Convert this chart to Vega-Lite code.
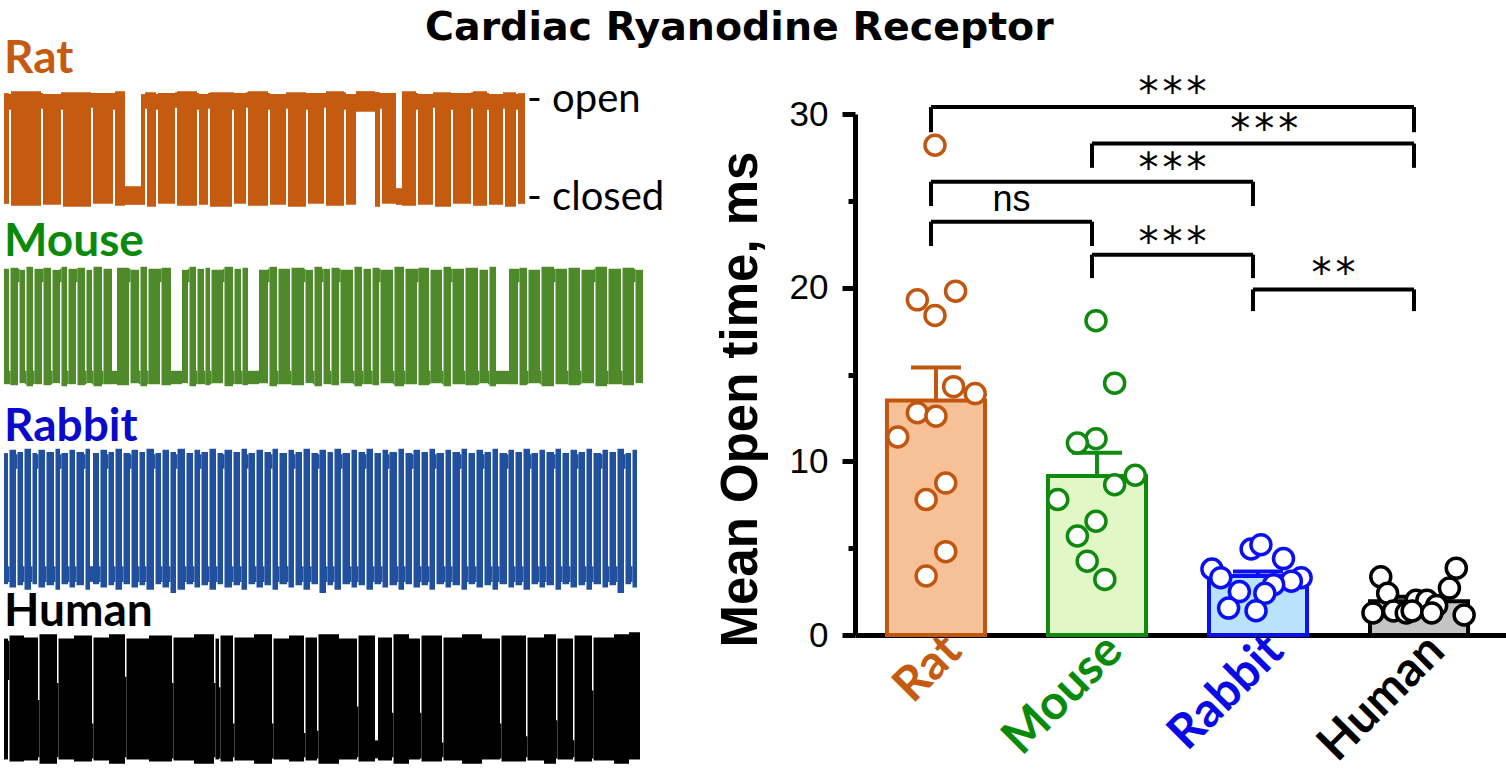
{
  "$schema": "https://vega.github.io/schema/vega-lite/v6.json",
  "background": "white",
  "padding": {"left": 4, "top": 8, "right": 0, "bottom": 6},
  "autosize": {"type": "pad"},
  "title": {"text": "Cardiac Ryanodine Receptor", "anchor": "start", "frame": "group", "dx": 421, "offset": -13, "font": "DejaVu Sans", "fontSize": 39.5, "fontWeight": "bold", "color": "#000000"},
  "config": {"view": {"stroke": null}, "axis": {"grid": false}},
  "bounds": "flush",
  "spacing": 211,
  "hconcat": [
    {
      "width": 640,
      "height": 521,
      "resolve": {"scale": {"y": "independent"}},
      "layer": [
        {
          "layer": [
            {
              "data": {"values": [
                {"t0":0,"t1":5,"lo":-6,"hi":107},{"t0":5,"t1":7,"lo":90,"hi":106},{"t0":7,"t1":37,"lo":-8,"hi":109},{"t0":37,"t1":39,"lo":91,"hi":107},
                {"t0":39,"t1":57,"lo":-7,"hi":106},{"t0":57,"t1":59,"lo":90,"hi":108},{"t0":59,"t1":87,"lo":-9,"hi":108},{"t0":87,"t1":89,"lo":92,"hi":107},
                {"t0":89,"t1":109,"lo":-6,"hi":107},{"t0":109,"t1":111,"lo":90,"hi":107},{"t0":111,"t1":121,"lo":-8,"hi":109},{"t0":121,"t1":137,"lo":-7,"hi":12},
                {"t0":137,"t1":141,"lo":-7,"hi":106},{"t0":141,"t1":143,"lo":91,"hi":108},{"t0":143,"t1":152,"lo":-9,"hi":108},{"t0":152,"t1":154,"lo":90,"hi":106},
                {"t0":154,"t1":171,"lo":-6,"hi":107},{"t0":171,"t1":173,"lo":92,"hi":108},{"t0":173,"t1":193,"lo":-8,"hi":109},{"t0":193,"t1":195,"lo":90,"hi":107},
                {"t0":195,"t1":204,"lo":-7,"hi":106},{"t0":204,"t1":206,"lo":91,"hi":107},{"t0":206,"t1":228,"lo":-9,"hi":108},{"t0":228,"t1":230,"lo":90,"hi":108},
                {"t0":230,"t1":242,"lo":-6,"hi":107},{"t0":242,"t1":244,"lo":92,"hi":108},{"t0":244,"t1":264,"lo":-8,"hi":109},{"t0":264,"t1":266,"lo":90,"hi":107},
                {"t0":266,"t1":282,"lo":-7,"hi":106},{"t0":282,"t1":284,"lo":91,"hi":108},{"t0":284,"t1":302,"lo":-9,"hi":108},{"t0":302,"t1":304,"lo":90,"hi":107},
                {"t0":304,"t1":320,"lo":-6,"hi":107},{"t0":320,"t1":322,"lo":92,"hi":107},{"t0":322,"t1":340,"lo":-8,"hi":109},{"t0":340,"t1":342,"lo":90,"hi":108},
                {"t0":342,"t1":352,"lo":-7,"hi":106},{"t0":352,"t1":371,"lo":88,"hi":109},{"t0":371,"t1":376,"lo":-9,"hi":108},{"t0":376,"t1":378,"lo":91,"hi":107},
                {"t0":378,"t1":392,"lo":-6,"hi":107},{"t0":392,"t1":398,"lo":-7,"hi":10},{"t0":398,"t1":412,"lo":-8,"hi":109},{"t0":412,"t1":414,"lo":90,"hi":107},
                {"t0":414,"t1":429,"lo":-7,"hi":106},{"t0":429,"t1":431,"lo":92,"hi":108},{"t0":431,"t1":447,"lo":-9,"hi":108},{"t0":447,"t1":449,"lo":90,"hi":107},
                {"t0":449,"t1":467,"lo":-6,"hi":107},{"t0":467,"t1":469,"lo":91,"hi":108},{"t0":469,"t1":483,"lo":-8,"hi":109},{"t0":483,"t1":485,"lo":90,"hi":107},
                {"t0":485,"t1":499,"lo":-7,"hi":106},{"t0":499,"t1":501,"lo":91,"hi":108},{"t0":501,"t1":512,"lo":-9,"hi":108},{"t0":512,"t1":514,"lo":90,"hi":106},
                {"t0":514,"t1":521,"lo":-6,"hi":107}
              ]},
              "mark": {"type": "rect", "color": "#C55A11"},
              "encoding": {
                "x": {"field": "t0", "type": "quantitative", "scale": {"domain": [0, 640], "nice": false, "zero": false}, "axis": null},
                "x2": {"field": "t1"},
                "y": {"field": "lo", "type": "quantitative", "scale": {"domain": [-445.9, 85.7], "nice": false, "zero": false}, "axis": null},
                "y2": {"field": "hi"}
              }
            },
            {
              "data": {"values": [{"species": "Rat"}]},
              "mark": {"type": "text", "align": "left", "baseline": "alphabetic", "font": "Lato", "fontWeight": "bold", "fontSize": 46, "color": "#C55A11"},
              "encoding": {"x": {"datum": 0, "axis": null}, "y": {"datum": 127.6, "axis": null}, "text": {"field": "species"}}
            },
            {
              "data": {"values": [{"lab": "- open", "level": 100}, {"lab": "- closed", "level": 0}]},
              "mark": {"type": "text", "align": "left", "baseline": "middle", "font": "Lato", "fontSize": 40, "color": "#000000"},
              "encoding": {"x": {"datum": 523, "axis": null}, "y": {"field": "level", "type": "quantitative", "axis": null}, "text": {"field": "lab"}}
            }
          ]
        },
        {
          "layer": [
            {
              "data": {"values": [
                {"t0":0,"t1":5,"lo":-6,"hi":106},{"t0":5,"t1":6.5,"lo":-6,"hi":7},{"t0":6.5,"t1":14,"lo":-7,"hi":107},{"t0":14,"t1":15.5,"lo":93,"hi":106},
                {"t0":15.5,"t1":21,"lo":-5,"hi":105},{"t0":21,"t1":22.5,"lo":-6,"hi":7},{"t0":22.5,"t1":29,"lo":-8,"hi":108},{"t0":29,"t1":30.5,"lo":-6,"hi":7},
                {"t0":30.5,"t1":38,"lo":-6,"hi":106},{"t0":38,"t1":39.5,"lo":93,"hi":106},{"t0":39.5,"t1":47,"lo":-7,"hi":107},{"t0":47,"t1":48.5,"lo":-6,"hi":7},
                {"t0":48.5,"t1":56,"lo":-5,"hi":105},{"t0":56,"t1":57.5,"lo":93,"hi":106},{"t0":57.5,"t1":63,"lo":-8,"hi":108},{"t0":63,"t1":64.5,"lo":-6,"hi":7},
                {"t0":64.5,"t1":72,"lo":-6,"hi":106},{"t0":72,"t1":73.5,"lo":93,"hi":106},{"t0":73.5,"t1":81,"lo":-7,"hi":107},{"t0":81,"t1":82.5,"lo":-6,"hi":7},
                {"t0":82.5,"t1":88,"lo":-5,"hi":105},{"t0":88,"t1":89.5,"lo":-6,"hi":7},{"t0":89.5,"t1":98,"lo":-8,"hi":108},{"t0":98,"t1":99.5,"lo":-6,"hi":7},
                {"t0":99.5,"t1":108,"lo":-6,"hi":106},{"t0":108,"t1":113,"lo":-6,"hi":7},{"t0":113,"t1":125,"lo":-7,"hi":107},{"t0":125,"t1":126.5,"lo":93,"hi":106},
                {"t0":126.5,"t1":135,"lo":-5,"hi":105},{"t0":135,"t1":136.5,"lo":-6,"hi":7},{"t0":136.5,"t1":143,"lo":-8,"hi":108},{"t0":143,"t1":144.5,"lo":-6,"hi":7},
                {"t0":144.5,"t1":156,"lo":-6,"hi":106},{"t0":156,"t1":157.5,"lo":93,"hi":106},{"t0":157.5,"t1":167,"lo":-7,"hi":107},{"t0":167,"t1":178,"lo":-6,"hi":7},
                {"t0":178,"t1":184,"lo":-5,"hi":105},{"t0":184,"t1":185.5,"lo":93,"hi":106},{"t0":185.5,"t1":192,"lo":-8,"hi":108},{"t0":192,"t1":193.5,"lo":-6,"hi":7},
                {"t0":193.5,"t1":200,"lo":-6,"hi":106},{"t0":200,"t1":201.5,"lo":-6,"hi":7},{"t0":201.5,"t1":206,"lo":-7,"hi":107},{"t0":206,"t1":207.5,"lo":-6,"hi":7},
                {"t0":207.5,"t1":219,"lo":-5,"hi":105},{"t0":219,"t1":220.5,"lo":93,"hi":106},{"t0":220.5,"t1":229,"lo":-8,"hi":108},{"t0":229,"t1":230.5,"lo":-6,"hi":7},
                {"t0":230.5,"t1":237,"lo":-6,"hi":106},{"t0":237,"t1":238.5,"lo":-6,"hi":7},{"t0":238.5,"t1":244,"lo":-7,"hi":107},{"t0":244,"t1":255,"lo":-6,"hi":7},
                {"t0":255,"t1":264,"lo":-5,"hi":105},{"t0":264,"t1":265.5,"lo":93,"hi":106},{"t0":265.5,"t1":273,"lo":-8,"hi":108},{"t0":273,"t1":274.5,"lo":-6,"hi":7},
                {"t0":274.5,"t1":286,"lo":-6,"hi":106},{"t0":286,"t1":287.5,"lo":-6,"hi":7},{"t0":287.5,"t1":300,"lo":-7,"hi":107},{"t0":300,"t1":301.5,"lo":93,"hi":106},
                {"t0":301.5,"t1":309,"lo":-5,"hi":105},{"t0":309,"t1":310.5,"lo":-6,"hi":7},{"t0":310.5,"t1":318,"lo":-8,"hi":108},{"t0":318,"t1":319.5,"lo":93,"hi":106},
                {"t0":319.5,"t1":326,"lo":-6,"hi":106},{"t0":326,"t1":327.5,"lo":-6,"hi":7},{"t0":327.5,"t1":335,"lo":-7,"hi":107},{"t0":335,"t1":336.5,"lo":93,"hi":106},
                {"t0":336.5,"t1":349,"lo":-5,"hi":105},{"t0":349,"t1":350.5,"lo":-6,"hi":7},{"t0":350.5,"t1":358,"lo":-8,"hi":108},{"t0":358,"t1":359.5,"lo":-6,"hi":7},
                {"t0":359.5,"t1":367,"lo":-6,"hi":106},{"t0":367,"t1":368.5,"lo":-6,"hi":7},{"t0":368.5,"t1":375,"lo":-7,"hi":107},{"t0":375,"t1":376.5,"lo":93,"hi":106},
                {"t0":376.5,"t1":389,"lo":-5,"hi":105},{"t0":389,"t1":390.5,"lo":-6,"hi":7},{"t0":390.5,"t1":400,"lo":-8,"hi":108},{"t0":400,"t1":401.5,"lo":-6,"hi":7},
                {"t0":401.5,"t1":413,"lo":-6,"hi":106},{"t0":413,"t1":414.5,"lo":93,"hi":106},{"t0":414.5,"t1":425,"lo":-7,"hi":107},{"t0":425,"t1":426.5,"lo":-6,"hi":7},
                {"t0":426.5,"t1":438,"lo":-5,"hi":105},{"t0":438,"t1":439.5,"lo":-6,"hi":7},{"t0":439.5,"t1":447,"lo":-8,"hi":108},{"t0":447,"t1":448.5,"lo":93,"hi":106},
                {"t0":448.5,"t1":460,"lo":-6,"hi":106},{"t0":460,"t1":461.5,"lo":-6,"hi":7},{"t0":461.5,"t1":474,"lo":-7,"hi":107},{"t0":474,"t1":475.5,"lo":-6,"hi":7},
                {"t0":475.5,"t1":484,"lo":-5,"hi":105},{"t0":484,"t1":485.5,"lo":-6,"hi":7},{"t0":485.5,"t1":492,"lo":-8,"hi":108},{"t0":492,"t1":505,"lo":-6,"hi":7},
                {"t0":505,"t1":514,"lo":-6,"hi":106},{"t0":514,"t1":515.5,"lo":93,"hi":106},{"t0":515.5,"t1":523,"lo":-7,"hi":107},{"t0":523,"t1":524.5,"lo":-6,"hi":7},
                {"t0":524.5,"t1":536,"lo":-5,"hi":105},{"t0":536,"t1":537.5,"lo":-6,"hi":7},{"t0":537.5,"t1":550,"lo":-8,"hi":108},{"t0":550,"t1":551.5,"lo":93,"hi":106},
                {"t0":551.5,"t1":563,"lo":-6,"hi":106},{"t0":563,"t1":564.5,"lo":-6,"hi":7},{"t0":564.5,"t1":576,"lo":-7,"hi":107},{"t0":576,"t1":577.5,"lo":-6,"hi":7},
                {"t0":577.5,"t1":590,"lo":-5,"hi":105},{"t0":590,"t1":591.5,"lo":93,"hi":106},{"t0":591.5,"t1":603,"lo":-8,"hi":108},{"t0":603,"t1":604.5,"lo":-6,"hi":7},
                {"t0":604.5,"t1":617,"lo":-6,"hi":106},{"t0":617,"t1":618.5,"lo":-6,"hi":7},{"t0":618.5,"t1":630,"lo":-7,"hi":107},{"t0":630,"t1":631.5,"lo":93,"hi":106},
                {"t0":631.5,"t1":639,"lo":-5,"hi":105}
              ]},
              "mark": {"type": "rect", "color": "#4F8A2A"},
              "encoding": {
                "x": {"field": "t0", "type": "quantitative", "scale": {"domain": [0, 640], "nice": false, "zero": false}, "axis": null},
                "x2": {"field": "t1"},
                "y": {"field": "lo", "type": "quantitative", "scale": {"domain": [-249.5, 256.3], "nice": false, "zero": false}, "axis": null},
                "y2": {"field": "hi"}
              }
            },
            {
              "data": {"values": [{"species": "Mouse"}]},
              "mark": {"type": "text", "align": "left", "baseline": "alphabetic", "font": "Lato", "fontWeight": "bold", "fontSize": 46, "color": "#0A8A0A"},
              "encoding": {"x": {"datum": 0, "axis": null}, "y": {"datum": 118.4, "axis": null}, "text": {"field": "species"}}
            }
          ]
        },
        {
          "layer": [
            {
              "data": {"values": [
                {"t0":0,"t1":4,"lo":-10,"hi":107},{"t0":4,"t1":5.5,"lo":-8,"hi":6},{"t0":5.5,"t1":12,"lo":-13,"hi":110},{"t0":12,"t1":13.5,"lo":93,"hi":106},
                {"t0":13.5,"t1":19,"lo":-11,"hi":108},{"t0":19,"t1":20.5,"lo":-8,"hi":6},{"t0":20.5,"t1":27,"lo":-15,"hi":111},{"t0":27,"t1":28.5,"lo":-8,"hi":6},
                {"t0":28.5,"t1":33,"lo":-10,"hi":107},{"t0":33,"t1":34.5,"lo":93,"hi":106},{"t0":34.5,"t1":41,"lo":-13,"hi":110},{"t0":41,"t1":42.5,"lo":-8,"hi":6},
                {"t0":42.5,"t1":50,"lo":-11,"hi":108},{"t0":50,"t1":51.5,"lo":-8,"hi":6},{"t0":51.5,"t1":56,"lo":-15,"hi":111},{"t0":56,"t1":57.5,"lo":93,"hi":106},
                {"t0":57.5,"t1":64,"lo":-10,"hi":107},{"t0":64,"t1":65.5,"lo":-8,"hi":6},{"t0":65.5,"t1":71,"lo":-13,"hi":110},{"t0":71,"t1":72.5,"lo":-8,"hi":6},
                {"t0":72.5,"t1":80,"lo":-11,"hi":108},{"t0":80,"t1":81.5,"lo":93,"hi":106},{"t0":81.5,"t1":86,"lo":-15,"hi":111},{"t0":86,"t1":89,"lo":-8,"hi":6},
                {"t0":89,"t1":95,"lo":-10,"hi":107},{"t0":95,"t1":96.5,"lo":-8,"hi":6},{"t0":96.5,"t1":103,"lo":-13,"hi":110},{"t0":103,"t1":104.5,"lo":93,"hi":106},
                {"t0":104.5,"t1":110,"lo":-11,"hi":108},{"t0":110,"t1":111.5,"lo":-8,"hi":6},{"t0":111.5,"t1":118,"lo":-15,"hi":111},{"t0":118,"t1":119.5,"lo":-8,"hi":6},
                {"t0":119.5,"t1":126,"lo":-10,"hi":107},{"t0":126,"t1":127.5,"lo":93,"hi":106},{"t0":127.5,"t1":134,"lo":-13,"hi":110},{"t0":134,"t1":135.5,"lo":-8,"hi":6},
                {"t0":135.5,"t1":141,"lo":-11,"hi":108},{"t0":141,"t1":142.5,"lo":-8,"hi":6},{"t0":142.5,"t1":150,"lo":-15,"hi":111},{"t0":150,"t1":151.5,"lo":93,"hi":106},
                {"t0":151.5,"t1":157,"lo":-10,"hi":107},{"t0":157,"t1":158.5,"lo":-8,"hi":6},{"t0":158.5,"t1":165,"lo":-13,"hi":110},{"t0":165,"t1":166.5,"lo":-8,"hi":6},
                {"t0":166.5,"t1":172,"lo":-18,"hi":108},{"t0":172,"t1":173.5,"lo":93,"hi":106},{"t0":173.5,"t1":181,"lo":-15,"hi":111},{"t0":181,"t1":182.5,"lo":-8,"hi":6},
                {"t0":182.5,"t1":189,"lo":-10,"hi":107},{"t0":189,"t1":190.5,"lo":-8,"hi":6},{"t0":190.5,"t1":196,"lo":-13,"hi":110},{"t0":196,"t1":197.5,"lo":93,"hi":106},
                {"t0":197.5,"t1":204,"lo":-11,"hi":108},{"t0":204,"t1":205.5,"lo":-8,"hi":6},{"t0":205.5,"t1":212,"lo":-15,"hi":111},{"t0":212,"t1":213.5,"lo":-8,"hi":6},
                {"t0":213.5,"t1":219,"lo":-10,"hi":107},{"t0":219,"t1":220.5,"lo":93,"hi":106},{"t0":220.5,"t1":228,"lo":-13,"hi":110},{"t0":228,"t1":229.5,"lo":-8,"hi":6},
                {"t0":229.5,"t1":236,"lo":-11,"hi":108},{"t0":236,"t1":237.5,"lo":-8,"hi":6},{"t0":237.5,"t1":243,"lo":-15,"hi":111},{"t0":243,"t1":244.5,"lo":93,"hi":106},
                {"t0":244.5,"t1":251,"lo":-10,"hi":107},{"t0":251,"t1":252.5,"lo":-8,"hi":6},{"t0":252.5,"t1":259,"lo":-13,"hi":110},{"t0":259,"t1":260.5,"lo":-8,"hi":6},
                {"t0":260.5,"t1":267,"lo":-11,"hi":108},{"t0":267,"t1":268.5,"lo":93,"hi":106},{"t0":268.5,"t1":274,"lo":-15,"hi":111},{"t0":274,"t1":275.5,"lo":-8,"hi":6},
                {"t0":275.5,"t1":283,"lo":-10,"hi":107},{"t0":283,"t1":284.5,"lo":-8,"hi":6},{"t0":284.5,"t1":290,"lo":-13,"hi":110},{"t0":290,"t1":291.5,"lo":93,"hi":106},
                {"t0":291.5,"t1":298,"lo":-11,"hi":108},{"t0":298,"t1":299.5,"lo":-8,"hi":6},{"t0":299.5,"t1":306,"lo":-15,"hi":111},{"t0":306,"t1":307.5,"lo":-8,"hi":6},
                {"t0":307.5,"t1":314,"lo":-10,"hi":107},{"t0":314,"t1":315.5,"lo":93,"hi":106},{"t0":315.5,"t1":322,"lo":-18,"hi":110},{"t0":322,"t1":323.5,"lo":-8,"hi":6},
                {"t0":323.5,"t1":329,"lo":-11,"hi":108},{"t0":329,"t1":330.5,"lo":-8,"hi":6},{"t0":330.5,"t1":337,"lo":-15,"hi":111},{"t0":337,"t1":338.5,"lo":93,"hi":106},
                {"t0":338.5,"t1":346,"lo":-10,"hi":107},{"t0":346,"t1":347.5,"lo":-8,"hi":6},{"t0":347.5,"t1":353,"lo":-13,"hi":110},{"t0":353,"t1":354.5,"lo":-8,"hi":6},
                {"t0":354.5,"t1":361,"lo":-11,"hi":108},{"t0":361,"t1":362.5,"lo":93,"hi":106},{"t0":362.5,"t1":369,"lo":-15,"hi":111},{"t0":369,"t1":370.5,"lo":-8,"hi":6},
                {"t0":370.5,"t1":377,"lo":-10,"hi":107},{"t0":377,"t1":378.5,"lo":-8,"hi":6},{"t0":378.5,"t1":384,"lo":-13,"hi":110},{"t0":384,"t1":385.5,"lo":93,"hi":106},
                {"t0":385.5,"t1":393,"lo":-11,"hi":108},{"t0":393,"t1":394.5,"lo":-8,"hi":6},{"t0":394.5,"t1":400,"lo":-15,"hi":111},{"t0":400,"t1":401.5,"lo":-8,"hi":6},
                {"t0":401.5,"t1":408,"lo":-10,"hi":107},{"t0":408,"t1":409.5,"lo":93,"hi":106},{"t0":409.5,"t1":416,"lo":-13,"hi":110},{"t0":416,"t1":417.5,"lo":-8,"hi":6},
                {"t0":417.5,"t1":424,"lo":-11,"hi":108},{"t0":424,"t1":425.5,"lo":-8,"hi":6},{"t0":425.5,"t1":431,"lo":-15,"hi":111},{"t0":431,"t1":432.5,"lo":93,"hi":106},
                {"t0":432.5,"t1":440,"lo":-10,"hi":107},{"t0":440,"t1":441.5,"lo":-8,"hi":6},{"t0":441.5,"t1":447,"lo":-13,"hi":110},{"t0":447,"t1":448.5,"lo":-8,"hi":6},
                {"t0":448.5,"t1":456,"lo":-11,"hi":108},{"t0":456,"t1":457.5,"lo":93,"hi":106},{"t0":457.5,"t1":463,"lo":-15,"hi":111},{"t0":463,"t1":464.5,"lo":-8,"hi":6},
                {"t0":464.5,"t1":471,"lo":-10,"hi":107},{"t0":471,"t1":472.5,"lo":-8,"hi":6},{"t0":472.5,"t1":479,"lo":-13,"hi":110},{"t0":479,"t1":480.5,"lo":93,"hi":106},
                {"t0":480.5,"t1":487,"lo":-11,"hi":108},{"t0":487,"t1":488.5,"lo":-8,"hi":6},{"t0":488.5,"t1":494,"lo":-15,"hi":111},{"t0":494,"t1":495.5,"lo":-8,"hi":6},
                {"t0":495.5,"t1":503,"lo":-10,"hi":107},{"t0":503,"t1":504.5,"lo":93,"hi":106},{"t0":504.5,"t1":510,"lo":-13,"hi":110},{"t0":510,"t1":511.5,"lo":-8,"hi":6},
                {"t0":511.5,"t1":518,"lo":-11,"hi":108},{"t0":518,"t1":519.5,"lo":-8,"hi":6},{"t0":519.5,"t1":526,"lo":-15,"hi":111},{"t0":526,"t1":527.5,"lo":93,"hi":106},
                {"t0":527.5,"t1":534,"lo":-10,"hi":107},{"t0":534,"t1":535.5,"lo":-8,"hi":6},{"t0":535.5,"t1":541,"lo":-13,"hi":110},{"t0":541,"t1":542.5,"lo":-8,"hi":6},
                {"t0":542.5,"t1":550,"lo":-11,"hi":108},{"t0":550,"t1":551.5,"lo":93,"hi":106},{"t0":551.5,"t1":557,"lo":-15,"hi":111},{"t0":557,"t1":558.5,"lo":-8,"hi":6},
                {"t0":558.5,"t1":565,"lo":-10,"hi":107},{"t0":565,"t1":566.5,"lo":-8,"hi":6},{"t0":566.5,"t1":573,"lo":-13,"hi":110},{"t0":573,"t1":574.5,"lo":93,"hi":106},
                {"t0":574.5,"t1":581,"lo":-11,"hi":108},{"t0":581,"t1":582.5,"lo":-8,"hi":6},{"t0":582.5,"t1":588,"lo":-15,"hi":111},{"t0":588,"t1":589.5,"lo":-8,"hi":6},
                {"t0":589.5,"t1":597,"lo":-10,"hi":107},{"t0":597,"t1":598.5,"lo":93,"hi":106},{"t0":598.5,"t1":604,"lo":-13,"hi":110},{"t0":604,"t1":605.5,"lo":-8,"hi":6},
                {"t0":605.5,"t1":612,"lo":-11,"hi":108},{"t0":612,"t1":613.5,"lo":-8,"hi":6},{"t0":613.5,"t1":620,"lo":-18,"hi":111},{"t0":620,"t1":621.5,"lo":93,"hi":106},
                {"t0":621.5,"t1":627,"lo":-10,"hi":107},{"t0":627,"t1":628.5,"lo":-8,"hi":6},{"t0":628.5,"t1":633,"lo":-13,"hi":110}
              ]},
              "mark": {"type": "rect", "color": "#21509E"},
              "encoding": {
                "x": {"field": "t0", "type": "quantitative", "scale": {"domain": [0, 640], "nice": false, "zero": false}, "axis": null},
                "x2": {"field": "t1"},
                "y": {"field": "lo", "type": "quantitative", "scale": {"domain": [-55.4, 409.8], "nice": false, "zero": false}, "axis": null},
                "y2": {"field": "hi"}
              }
            },
            {
              "data": {"values": [{"species": "Rabbit"}]},
              "mark": {"type": "text", "align": "left", "baseline": "alphabetic", "font": "Lato", "fontWeight": "bold", "fontSize": 46, "color": "#0A0ACC"},
              "encoding": {"x": {"datum": 0, "axis": null}, "y": {"datum": 117.9, "axis": null}, "text": {"field": "species"}}
            }
          ]
        },
        {
          "layer": [
            {
              "data": {"values": [
                {"t0":0,"t1":4,"lo":-8,"hi":106},{"t0":4,"t1":5.5,"lo":67,"hi":104},{"t0":5.5,"t1":20,"lo":-10,"hi":109},{"t0":20,"t1":34,"lo":-9,"hi":107},
                {"t0":34,"t1":35.5,"lo":-6,"hi":48},{"t0":35.5,"t1":53,"lo":-12,"hi":110},{"t0":53,"t1":54.5,"lo":-6,"hi":64},{"t0":54.5,"t1":70,"lo":-8,"hi":106},
                {"t0":70,"t1":88,"lo":-10,"hi":109},{"t0":88,"t1":89.5,"lo":-7,"hi":26},{"t0":89.5,"t1":105,"lo":-9,"hi":107},{"t0":105,"t1":121,"lo":-12,"hi":110},
                {"t0":121,"t1":122.5,"lo":-6,"hi":70},{"t0":122.5,"t1":145,"lo":-8,"hi":106},{"t0":145,"t1":168,"lo":-10,"hi":109},{"t0":168,"t1":169.5,"lo":-7,"hi":64},
                {"t0":169.5,"t1":190,"lo":-9,"hi":107},{"t0":190,"t1":210,"lo":-12,"hi":110},{"t0":210,"t1":211.5,"lo":-6,"hi":64},{"t0":211.5,"t1":215,"lo":-8,"hi":106},
                {"t0":215,"t1":216.5,"lo":-7,"hi":60},{"t0":216.5,"t1":229,"lo":-10,"hi":109},{"t0":229,"t1":230.5,"lo":-6,"hi":26},{"t0":230.5,"t1":250,"lo":-9,"hi":107},
                {"t0":250,"t1":268,"lo":-12,"hi":110},{"t0":268,"t1":269.5,"lo":-7,"hi":26},{"t0":269.5,"t1":285,"lo":-8,"hi":106},{"t0":285,"t1":300,"lo":-10,"hi":109},
                {"t0":300,"t1":301.5,"lo":-6,"hi":17},{"t0":301.5,"t1":313,"lo":-9,"hi":107},{"t0":313,"t1":314.5,"lo":-7,"hi":19},{"t0":314.5,"t1":335,"lo":-12,"hi":110},
                {"t0":335,"t1":353,"lo":-8,"hi":106},{"t0":353,"t1":354.5,"lo":-6,"hi":42},{"t0":354.5,"t1":371,"lo":-10,"hi":109},{"t0":371,"t1":374,"lo":-7,"hi":10},
                {"t0":374,"t1":388,"lo":-9,"hi":107},{"t0":388,"t1":389.5,"lo":-6,"hi":36},{"t0":389.5,"t1":405,"lo":-12,"hi":110},{"t0":405,"t1":416,"lo":-8,"hi":106},
                {"t0":416,"t1":417.5,"lo":-7,"hi":36},{"t0":417.5,"t1":438,"lo":-10,"hi":109},{"t0":438,"t1":439.5,"lo":-6,"hi":8},{"t0":439.5,"t1":458,"lo":-9,"hi":107},
                {"t0":458,"t1":478,"lo":-12,"hi":110},{"t0":478,"t1":496,"lo":-8,"hi":106},{"t0":496,"t1":497.5,"lo":-7,"hi":26},{"t0":497.5,"t1":522,"lo":-10,"hi":109},
                {"t0":522,"t1":523.5,"lo":-6,"hi":14},{"t0":523.5,"t1":540,"lo":-9,"hi":107},{"t0":540,"t1":552,"lo":-12,"hi":110},{"t0":552,"t1":553.5,"lo":-7,"hi":29},
                {"t0":553.5,"t1":569,"lo":-8,"hi":106},{"t0":569,"t1":570.5,"lo":-6,"hi":10},{"t0":570.5,"t1":588,"lo":-10,"hi":109},{"t0":588,"t1":589.5,"lo":-7,"hi":57},
                {"t0":589.5,"t1":610,"lo":-9,"hi":107},{"t0":610,"t1":625,"lo":-12,"hi":110},{"t0":625,"t1":636,"lo":-8,"hi":112}
              ]},
              "mark": {"type": "rect", "color": "#000000"},
              "encoding": {
                "x": {"field": "t0", "type": "quantitative", "scale": {"domain": [0, 640], "nice": false, "zero": false}, "axis": null},
                "x2": {"field": "t1"},
                "y": {"field": "lo", "type": "quantitative", "scale": {"domain": [109.4, 600.9], "nice": false, "zero": false}, "axis": null},
                "y2": {"field": "hi"}
              }
            },
            {
              "data": {"values": [{"species": "Human"}]},
              "mark": {"type": "text", "align": "left", "baseline": "alphabetic", "font": "Lato", "fontWeight": "bold", "fontSize": 46, "color": "#000000"},
              "encoding": {"x": {"datum": 0, "axis": null}, "y": {"datum": 117.9, "axis": null}, "text": {"field": "species"}}
            }
          ]
        }
      ]
    },
    {
      "width": 651,
      "height": 521,
      "resolve": {"scale": {"x": "independent", "xOffset": "independent"}, "axis": {"x": "independent", "y": "independent"}},
      "layer": [
        {
          "data": {"values": [
            {"species": "Rat", "mean": 13.5, "upper": 15.4},
            {"species": "Mouse", "mean": 9.15, "upper": 10.5},
            {"species": "Rabbit", "mean": 3.4, "upper": 3.65},
            {"species": "Human", "mean": 1.95, "upper": 2.2}
          ]},
          "layer": [
            {
              "mark": {"type": "bar", "strokeWidth": 4, "width": {"band": 1}},
              "encoding": {
                "x": {"field": "species", "type": "nominal", "sort": ["Rat", "Mouse", "Rabbit", "Human"],
                  "scale": {"paddingInner": 0.391, "paddingOuter": 0.217, "align": 0.457},
                  "axis": {"orient": "bottom", "title": null, "ticks": false, "domainWidth": 5, "domainColor": "#000000",
                    "labelAngle": -45, "labelAlign": "right", "labelBaseline": "middle", "labelFont": "Lato", "labelFontWeight": "bold",
                    "labelFontSize": 48, "labelPadding": 8, "labelOffset": 18,
                    "labelColor": {"expr": "datum.value === 'Rat' ? '#C55A11' : datum.value === 'Mouse' ? '#0A8A0A' : datum.value === 'Rabbit' ? '#0A0AE6' : '#000000'"}}},
                "y": {"field": "mean", "type": "quantitative", "scale": {"domain": [0, 30], "nice": false, "zero": true},
                  "axis": {"orient": "left", "values": [0, 10, 20, 30], "tickSize": 13, "tickWidth": 5, "tickColor": "#000000",
                    "domainWidth": 5, "domainColor": "#000000", "labelFont": "Liberation Sans", "labelFontSize": 35, "labelColor": "#000000",
                    "labelPadding": 14, "title": "Mean Open time, ms", "titleFont": "Liberation Sans", "titleFontSize": 51,
                    "titleFontWeight": "bold", "titleColor": "#000000", "titlePadding": 22, "titleY": 285}},
                "fill": {"field": "species", "type": "nominal", "scale": {"domain": ["Rat", "Mouse", "Rabbit", "Human"], "range": ["#F6C197", "#E2F7C6", "#B9E3FA", "#C4C4C4"]}, "legend": null},
                "stroke": {"field": "species", "type": "nominal", "scale": {"domain": ["Rat", "Mouse", "Rabbit", "Human"], "range": ["#C0560F", "#0F8A0F", "#0A10F0", "#000000"]}, "legend": null}
              }
            },
            {
              "mark": {"type": "rule", "strokeWidth": 4},
              "encoding": {
                "x": {"field": "species", "type": "nominal", "sort": ["Rat", "Mouse", "Rabbit", "Human"],
                  "axis": {"orient": "bottom", "title": null, "ticks": false, "domainWidth": 5, "domainColor": "#000000",
                    "labelAngle": -45, "labelAlign": "right", "labelBaseline": "middle", "labelFont": "Lato", "labelFontWeight": "bold",
                    "labelFontSize": 48, "labelPadding": 8, "labelOffset": 18,
                    "labelColor": {"expr": "datum.value === 'Rat' ? '#C55A11' : datum.value === 'Mouse' ? '#0A8A0A' : datum.value === 'Rabbit' ? '#0A0AE6' : '#000000'"}}},
                "y": {"field": "mean", "type": "quantitative",
                  "axis": {"orient": "left", "values": [0, 10, 20, 30], "tickSize": 13, "tickWidth": 5, "tickColor": "#000000",
                    "domainWidth": 5, "domainColor": "#000000", "labelFont": "Liberation Sans", "labelFontSize": 35, "labelColor": "#000000",
                    "labelPadding": 14, "title": "Mean Open time, ms", "titleFont": "Liberation Sans", "titleFontSize": 51,
                    "titleFontWeight": "bold", "titleColor": "#000000", "titlePadding": 22, "titleY": 285}},
                "y2": {"field": "upper"},
                "stroke": {"field": "species", "type": "nominal", "legend": null}
              }
            },
            {
              "mark": {"type": "tick", "orient": "horizontal", "size": 50, "thickness": 4, "opacity": 1},
              "encoding": {
                "x": {"field": "species", "type": "nominal", "sort": ["Rat", "Mouse", "Rabbit", "Human"],
                  "axis": {"orient": "bottom", "title": null, "ticks": false, "domainWidth": 5, "domainColor": "#000000",
                    "labelAngle": -45, "labelAlign": "right", "labelBaseline": "middle", "labelFont": "Lato", "labelFontWeight": "bold",
                    "labelFontSize": 48, "labelPadding": 8, "labelOffset": 18,
                    "labelColor": {"expr": "datum.value === 'Rat' ? '#C55A11' : datum.value === 'Mouse' ? '#0A8A0A' : datum.value === 'Rabbit' ? '#0A0AE6' : '#000000'"}}},
                "y": {"field": "upper", "type": "quantitative",
                  "axis": {"orient": "left", "values": [0, 10, 20, 30], "tickSize": 13, "tickWidth": 5, "tickColor": "#000000",
                    "domainWidth": 5, "domainColor": "#000000", "labelFont": "Liberation Sans", "labelFontSize": 35, "labelColor": "#000000",
                    "labelPadding": 14, "title": "Mean Open time, ms", "titleFont": "Liberation Sans", "titleFontSize": 51,
                    "titleFontWeight": "bold", "titleColor": "#000000", "titlePadding": 22, "titleY": 285}},
                "color": {"field": "species", "type": "nominal", "scale": {"domain": ["Rat", "Mouse", "Rabbit", "Human"], "range": ["#C0560F", "#0F8A0F", "#0A10F0", "#000000"]}, "legend": null}
              }
            }
          ]
        },
        {
          "data": {"values": [
            {"species": "Rat", "ms": 28.2, "j": 0.49}, {"species": "Rat", "ms": 19.3, "j": 0.31}, {"species": "Rat", "ms": 19.8, "j": 0.70},
            {"species": "Rat", "ms": 18.4, "j": 0.49}, {"species": "Rat", "ms": 14.3, "j": 0.68}, {"species": "Rat", "ms": 13.9, "j": 0.90},
            {"species": "Rat", "ms": 12.8, "j": 0.31}, {"species": "Rat", "ms": 12.6, "j": 0.50}, {"species": "Rat", "ms": 11.4, "j": 0.11},
            {"species": "Rat", "ms": 8.75, "j": 0.60}, {"species": "Rat", "ms": 7.8, "j": 0.40}, {"species": "Rat", "ms": 4.8, "j": 0.60},
            {"species": "Rat", "ms": 3.4, "j": 0.40},
            {"species": "Mouse", "ms": 18.1, "j": 0.49}, {"species": "Mouse", "ms": 14.5, "j": 0.68}, {"species": "Mouse", "ms": 11.3, "j": 0.49},
            {"species": "Mouse", "ms": 11.05, "j": 0.30}, {"species": "Mouse", "ms": 9.2, "j": 0.89}, {"species": "Mouse", "ms": 8.65, "j": 0.68},
            {"species": "Mouse", "ms": 7.8, "j": 0.10}, {"species": "Mouse", "ms": 6.55, "j": 0.49}, {"species": "Mouse", "ms": 5.7, "j": 0.30},
            {"species": "Mouse", "ms": 4.25, "j": 0.40}, {"species": "Mouse", "ms": 3.2, "j": 0.58},
            {"species": "Rabbit", "ms": 4.95, "j": 0.43}, {"species": "Rabbit", "ms": 5.2, "j": 0.53}, {"species": "Rabbit", "ms": 4.4, "j": 0.76},
            {"species": "Rabbit", "ms": 3.8, "j": 0.03}, {"species": "Rabbit", "ms": 3.3, "j": 0.12}, {"species": "Rabbit", "ms": 3.3, "j": 0.94},
            {"species": "Rabbit", "ms": 3.1, "j": 0.84}, {"species": "Rabbit", "ms": 2.9, "j": 0.66}, {"species": "Rabbit", "ms": 2.5, "j": 0.31},
            {"species": "Rabbit", "ms": 2.4, "j": 0.57}, {"species": "Rabbit", "ms": 1.55, "j": 0.20}, {"species": "Rabbit", "ms": 1.4, "j": 0.48},
            {"species": "Human", "ms": 3.85, "j": 0.88}, {"species": "Human", "ms": 3.35, "j": 0.11}, {"species": "Human", "ms": 2.7, "j": 0.81},
            {"species": "Human", "ms": 2.4, "j": 0.18}, {"species": "Human", "ms": 2.0, "j": 0.47}, {"species": "Human", "ms": 2.0, "j": 0.58},
            {"species": "Human", "ms": 1.7, "j": 0.68}, {"species": "Human", "ms": 1.27, "j": 0.03}, {"species": "Human", "ms": 1.38, "j": 0.24},
            {"species": "Human", "ms": 1.27, "j": 0.37}, {"species": "Human", "ms": 1.38, "j": 0.43}, {"species": "Human", "ms": 1.27, "j": 0.63},
            {"species": "Human", "ms": 1.15, "j": 0.96}
          ]},
          "mark": {"type": "point", "shape": "circle", "filled": true, "fill": "#FFFFFF", "size": 400, "strokeWidth": 3.5, "opacity": 1},
          "encoding": {
            "x": {"field": "species", "type": "nominal", "sort": ["Rat", "Mouse", "Rabbit", "Human"],
              "scale": {"paddingInner": 0.391, "paddingOuter": 0.217, "align": 0.457}, "axis": null},
            "xOffset": {"field": "j", "type": "quantitative", "scale": {"domain": [0, 1]}},
            "y": {"field": "ms", "type": "quantitative", "axis": null},
            "stroke": {"field": "species", "type": "nominal", "scale": {"domain": ["Rat", "Mouse", "Rabbit", "Human"], "range": ["#C0560F", "#0F8A0F", "#0A10F0", "#000000"]}, "legend": null}
          }
        },
        {
          "data": {"values": [
            {"from": 1, "to": 4, "y": 30.4, "leg": 28.95, "label": "*\u200a*\u200a*", "lx": 2.5, "ly": 31.4},
            {"from": 2, "to": 4, "y": 28.3, "leg": 26.9, "label": "*\u200a*\u200a*", "lx": 3.07, "ly": 29.25},
            {"from": 1, "to": 3, "y": 26.1, "leg": 24.7, "label": "*\u200a*\u200a*", "lx": 2.5, "ly": 27.0},
            {"from": 1, "to": 2, "y": 23.8, "leg": 22.4, "label": "ns", "lx": 1.5, "ly": 25.0},
            {"from": 2, "to": 3, "y": 21.9, "leg": 20.55, "label": "*\u200a*\u200a*", "lx": 2.5, "ly": 22.74},
            {"from": 3, "to": 4, "y": 19.9, "leg": 18.65, "label": "*\u200a*", "lx": 3.5, "ly": 20.96}
          ]},
          "layer": [
            {
              "mark": {"type": "rule", "strokeWidth": 4, "color": "#000000"},
              "encoding": {
                "x": {"field": "from", "type": "quantitative", "scale": {"domain": [0.528, 4.5715], "nice": false, "zero": false}, "axis": null},
                "x2": {"field": "to"},
                "y": {"field": "y", "type": "quantitative",
                  "axis": {"orient": "left", "values": [5, 15, 25], "labels": false, "domain": false, "tickSize": 7, "tickWidth": 5, "tickColor": "#000000", "title": null, "grid": false}}
              }
            },
            {
              "mark": {"type": "rule", "strokeWidth": 4, "color": "#000000"},
              "encoding": {
                "x": {"field": "from", "type": "quantitative", "axis": null},
                "y": {"field": "leg", "type": "quantitative",
                  "axis": {"orient": "left", "values": [5, 15, 25], "labels": false, "domain": false, "tickSize": 7, "tickWidth": 5, "tickColor": "#000000", "title": null, "grid": false}},
                "y2": {"field": "y"}
              }
            },
            {
              "mark": {"type": "rule", "strokeWidth": 4, "color": "#000000"},
              "encoding": {
                "x": {"field": "to", "type": "quantitative", "axis": null},
                "y": {"field": "leg", "type": "quantitative",
                  "axis": {"orient": "left", "values": [5, 15, 25], "labels": false, "domain": false, "tickSize": 7, "tickWidth": 5, "tickColor": "#000000", "title": null, "grid": false}},
                "y2": {"field": "y"}
              }
            },
            {
              "transform": [{"filter": "datum.label !== 'ns'"}],
              "mark": {"type": "text", "font": "DejaVu Sans", "fontSize": 40, "align": "center", "baseline": "alphabetic", "dy": 16, "color": "#000000"},
              "encoding": {
                "x": {"field": "lx", "type": "quantitative", "axis": null},
                "y": {"field": "ly", "type": "quantitative",
                  "axis": {"orient": "left", "values": [5, 15, 25], "labels": false, "domain": false, "tickSize": 7, "tickWidth": 5, "tickColor": "#000000", "title": null, "grid": false}},
                "text": {"field": "label"}
              }
            },
            {
              "transform": [{"filter": "datum.label === 'ns'"}],
              "mark": {"type": "text", "font": "Liberation Sans Narrow, Liberation Sans", "fontSize": 36, "align": "center", "baseline": "alphabetic", "dy": 10, "color": "#000000"},
              "encoding": {
                "x": {"field": "lx", "type": "quantitative", "axis": null},
                "y": {"field": "ly", "type": "quantitative",
                  "axis": {"orient": "left", "values": [5, 15, 25], "labels": false, "domain": false, "tickSize": 7, "tickWidth": 5, "tickColor": "#000000", "title": null, "grid": false}},
                "text": {"field": "label"}
              }
            }
          ]
        }
      ]
    }
  ]
}
